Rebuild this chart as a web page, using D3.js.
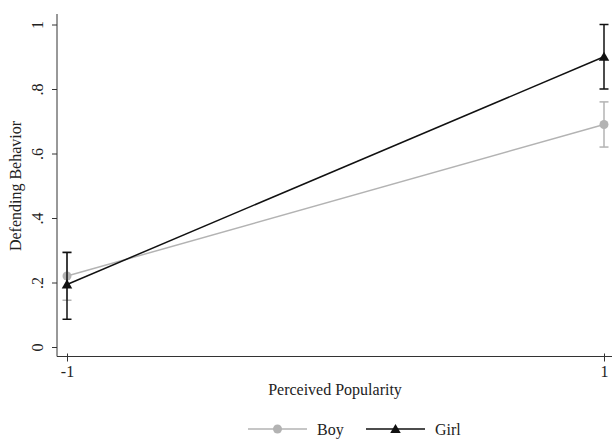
<!DOCTYPE html>
<html>
<head>
<meta charset="utf-8">
<script src="https://cdn.jsdelivr.net/npm/d3@7"></script>
<style>
  body { margin: 0; background: #fff; }
  text { font-family: "Liberation Serif", "Times New Roman", serif; fill: #222; }
</style>
</head>
<body>
<div id="chart"></div>
<script>
var xValues = [-1, 1];
var xTickLabels = ["-1", "1"];
var boyMean = [0.22, 0.69];
var boyLow = [0.145, 0.62];
var boyHigh = [0.295, 0.76];
var girlMean = [0.194, 0.90];
var girlLow = [0.086, 0.80];
var girlHigh = [0.293, 1.00];
var yTicks = [0, 0.2, 0.4, 0.6, 0.8, 1];
var yTickLabels = ["0", ".2", ".4", ".6", ".8", "1"];

var width = 614, height = 440;
var fontSize = "16px";

var svg = d3.select("#chart").append("svg")
  .attr("width", width)
  .attr("height", height);

var x = d3.scaleLinear().domain([-1, 1]).range([67, 604]);
var y = d3.scaleLinear().domain([0, 1]).range([347, 24.5]);

var axisX = 57, axisY = 356.5;

// Y axis
var yAxis = d3.axisLeft(y)
  .tickValues(yTicks)
  .tickSize(5)
  .tickFormat(function(d, i) { return yTickLabels[i]; });

var gy = svg.append("g")
  .attr("transform", "translate(" + axisX + ",0)")
  .call(yAxis);
gy.select(".domain").remove();
gy.selectAll(".tick line").attr("stroke", "#333");
gy.selectAll(".tick text")
  .attr("x", null)
  .attr("y", null)
  .attr("dy", "0.35em")
  .attr("transform", "translate(-20,0) rotate(-90)")
  .style("text-anchor", "middle")
  .style("font-size", fontSize)
  .style("font-family", "Liberation Serif, serif");

svg.append("line")
  .attr("x1", axisX).attr("x2", axisX)
  .attr("y1", 14).attr("y2", axisY)
  .attr("stroke", "#333").attr("stroke-width", 1);

// X axis
var xAxis = d3.axisBottom(x)
  .tickValues(xValues)
  .tickSize(5)
  .tickFormat(function(d, i) { return xTickLabels[i]; });

var gx = svg.append("g")
  .attr("transform", "translate(0," + axisY + ")")
  .call(xAxis);
gx.select(".domain").remove();
gx.selectAll(".tick line").attr("stroke", "#333").attr("y1", -3);
gx.selectAll(".tick text")
  .attr("y", 9)
  .style("font-size", fontSize)
  .style("font-family", "Liberation Serif, serif");

svg.append("line")
  .attr("x1", axisX).attr("x2", 612)
  .attr("y1", axisY).attr("y2", axisY)
  .attr("stroke", "#333").attr("stroke-width", 1);

// Axis titles
svg.append("text")
  .attr("transform", "translate(15,186) rotate(-90)")
  .attr("text-anchor", "middle")
  .attr("dy", "0.35em")
  .style("font-size", fontSize)
  .text("Defending Behavior");

svg.append("text")
  .attr("x", 335)
  .attr("y", 395)
  .attr("text-anchor", "middle")
  .style("font-size", fontSize)
  .text("Perceived Popularity");

var series = [
  { name: "Boy", mean: boyMean, low: boyLow, high: boyHigh, color: "#b3b3b3", marker: "circle" },
  { name: "Girl", mean: girlMean, low: girlLow, high: girlHigh, color: "#111", marker: "triangle" }
];

var line = d3.line()
  .x(function(d) { return x(d.x); })
  .y(function(d) { return y(d.y); });

function drawMarker(g, type, cx, cy, color) {
  if (type === "circle") {
    g.append("circle").attr("cx", cx).attr("cy", cy).attr("r", 4.5).attr("fill", color);
  } else {
    g.append("path")
      .attr("d", d3.symbol().type(d3.symbolTriangle).size(48)())
      .attr("transform", "translate(" + cx + "," + (cy + 1) + ")")
      .attr("fill", color);
  }
}

series.forEach(function(s) {
  var g = svg.append("g");
  var pts = xValues.map(function(v, i) { return { x: v, y: s.mean[i] }; });

  // error bars
  xValues.forEach(function(v, i) {
    var cx = x(v);
    g.append("line")
      .attr("x1", cx).attr("x2", cx)
      .attr("y1", y(s.low[i])).attr("y2", y(s.high[i]))
      .attr("stroke", s.color).attr("stroke-width", 1.5);
    [s.low[i], s.high[i]].forEach(function(c) {
      g.append("line")
        .attr("x1", cx - 4.5).attr("x2", cx + 4.5)
        .attr("y1", y(c)).attr("y2", y(c))
        .attr("stroke", s.color).attr("stroke-width", 1.5);
    });
  });

  g.append("path")
    .datum(pts)
    .attr("d", line)
    .attr("fill", "none")
    .attr("stroke", s.color)
    .attr("stroke-width", 1.5);

  pts.forEach(function(p) {
    drawMarker(g, s.marker, x(p.x), y(p.y), s.color);
  });
});

// Legend
var legendY = 429;
var legendItems = [
  { s: series[0], x1: 248, x2: 307, tx: 317 },
  { s: series[1], x1: 366, x2: 425, tx: 435 }
];
legendItems.forEach(function(l) {
  var g = svg.append("g");
  g.append("line")
    .attr("x1", l.x1).attr("x2", l.x2)
    .attr("y1", legendY).attr("y2", legendY)
    .attr("stroke", l.s.color).attr("stroke-width", 1.5);
  drawMarker(g, l.s.marker, (l.x1 + l.x2) / 2, legendY, l.s.color);
  g.append("text")
    .attr("x", l.tx)
    .attr("y", legendY)
    .attr("dy", "0.35em")
    .style("font-size", fontSize)
    .text(l.s.name);
});
</script>
</body>
</html>
